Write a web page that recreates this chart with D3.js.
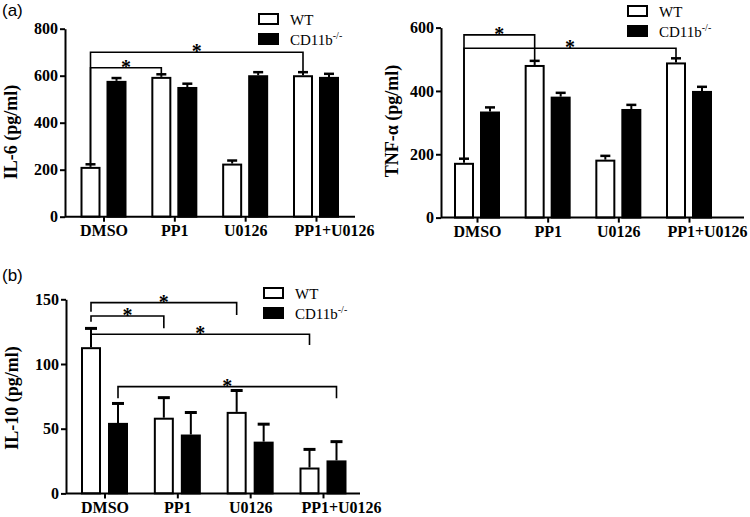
<!DOCTYPE html>
<html>
<head>
<meta charset="utf-8">
<script src="https://cdn.jsdelivr.net/npm/d3@7"></script>
<style>
  body { margin: 0; background: #fff; }
  svg text { font-family: 'Liberation Serif', 'Times New Roman', serif; fill: #000; }
</style>
</head>
<body>
<svg id="chart" width="750" height="517"></svg>
<script>
// categories and groups
const categories = ['DMSO', 'PP1', 'U0126', 'PP1+U0126'];
const groups = ['WT', 'KO'];

// IL-6 (pg/ml)
const il6WT = [212, 595, 226, 602];
const il6WTErr = [11, 11, 13, 13];
const il6KO = [578, 552, 602, 595];
const il6KOErr = [12, 14, 13, 13];
const il6Ticks = [0, 200, 400, 600, 800];

// TNF-α (pg/ml)
const tnfWT = [173, 482, 183, 490];
const tnfWTErr = [13, 13, 12, 13];
const tnfKO = [335, 382, 343, 400];
const tnfKOErr = [13, 12, 13, 13];
const tnfTicks = [0, 200, 400, 600];

// IL-10 (pg/ml)
const il10WT = [113, 58.5, 63, 20];
const il10WTErr = [14.5, 15.5, 16.5, 14];
const il10KO = [54.5, 45.5, 40, 25.5];
const il10KOErr = [15, 17, 13.5, 14.5];
const il10Ticks = [0, 50, 100, 150];

// significance brackets: [fromCategory, fromGroup, toCategory, toGroup]
const il6Sig = [[0, 'WT', 1, 'WT'], [0, 'WT', 3, 'WT']];
const tnfSig = [[0, 'WT', 1, 'WT'], [0, 'WT', 3, 'WT']];
const il10Sig = [[0, 'WT', 2, 'WT'], [0, 'WT', 1, 'WT'], [0, 'WT', 3, 'WT'], [0, 'KO', 3, 'KO']];

const svg = d3.select('#chart');

// layout of each panel (pixels) + bracket heights (data units, null = down to the error cap)
const panels = [
  {
    wt: il6WT, wtErr: il6WTErr, ko: il6KO, koErr: il6KOErr, ticks: il6Ticks, sig: il6Sig,
    title: 'IL-6 (pg/ml)', axisX: 65, axisEnd: 355, top: 28.7, bottom: 216.7,
    first: 103.5, last: 316, bar: 20, gap: 6, cap: 5, capW: 2.5,
    titleX: 17, titleY: 132, legendX: 258, legendY: 13,
    levels: [634, 700], legs: [[null, null], [null, null]]
  },
  {
    wt: tnfWT, wtErr: tnfWTErr, ko: tnfKO, koErr: tnfKOErr, ticks: tnfTicks, sig: tnfSig,
    title: 'TNF-α (pg/ml)', axisX: 441, axisEnd: 744, top: 27.6, bottom: 217.6,
    first: 477, last: 689, bar: 20, gap: 6, cap: 5, capW: 2.5,
    titleX: 398, titleY: 121, legendX: 627, legendY: 5,
    levels: [577, 535], legs: [[null, null], [null, null]]
  },
  {
    wt: il10WT, wtErr: il10WTErr, ko: il10KO, koErr: il10KOErr, ticks: il10Ticks, sig: il10Sig,
    title: 'IL-10 (pg/ml)', axisX: 66, axisEnd: 360, top: 299.3, bottom: 493.4,
    first: 104.5, last: 323, bar: 20, gap: 7, cap: 6, capW: 3,
    titleX: 18, titleY: 398, legendX: 263, legendY: 287,
    levels: [147.4, 137.1, 123, 82.5],
    legs: [[140.4, 137.9], [132.7, 127.6], [123, 114.7], [73.5, 73.5]]
  }
];

panels.forEach(p => drawPanel(p));

// panel letters
svg.append('text').attr('x', 2).attr('y', 16).text('(a)')
  .style('font-family', "'Liberation Sans', Arial, sans-serif").style('font-size', '17px');
svg.append('text').attr('x', 2).attr('y', 281).text('(b)')
  .style('font-family', "'Liberation Sans', Arial, sans-serif").style('font-size', '17px');

function drawPanel(p) {
  const yMax = p.ticks[p.ticks.length - 1];
  const y = d3.scaleLinear().domain([0, yMax]).range([p.bottom, p.top]);
  const x = d3.scalePoint().domain(categories).range([p.first, p.last]);
  const half = p.bar + p.gap / 2;
  const sub = d3.scaleBand().domain(groups).range([-half, half]).paddingInner(p.gap / (p.bar + p.gap));

  const values = { WT: p.wt, KO: p.ko };
  const errors = { WT: p.wtErr, KO: p.koErr };
  const cx = (i, g) => x(categories[i]) + sub(g) + sub.bandwidth() / 2;

  const g = svg.append('g');

  // bars
  groups.forEach(grp => {
    g.selectAll('rect.' + grp)
      .data(values[grp])
      .enter()
      .append('rect')
      .attr('x', (d, i) => x(categories[i]) + sub(grp) + 1)
      .attr('y', d => y(d) + 1)
      .attr('width', sub.bandwidth() - 2)
      .attr('height', d => y(0) - y(d) - 1)
      .attr('fill', grp === 'WT' ? '#fff' : '#000')
      .attr('stroke', '#000')
      .attr('stroke-width', 2);

    // error bars (upper only)
    const eb = g.selectAll('g.err' + grp)
      .data(values[grp])
      .enter()
      .append('g');
    eb.append('line')
      .attr('x1', (d, i) => cx(i, grp)).attr('x2', (d, i) => cx(i, grp))
      .attr('y1', d => y(d)).attr('y2', (d, i) => y(d + errors[grp][i]))
      .attr('stroke', '#000').attr('stroke-width', 2);
    eb.append('line')
      .attr('x1', (d, i) => cx(i, grp) - p.cap).attr('x2', (d, i) => cx(i, grp) + p.cap)
      .attr('y1', (d, i) => y(d + errors[grp][i])).attr('y2', (d, i) => y(d + errors[grp][i]))
      .attr('stroke', '#000').attr('stroke-width', p.capW);
  });

  // y axis
  const yAxis = g.append('g')
    .attr('transform', 'translate(' + p.axisX + ',0)')
    .call(d3.axisLeft(y).tickValues(p.ticks).tickSize(5).tickPadding(2).tickSizeOuter(0));
  yAxis.select('.domain').attr('stroke-width', 2);
  yAxis.selectAll('.tick line').attr('stroke-width', 2);
  yAxis.selectAll('text').style('font-family', "'Liberation Serif', serif")
    .style('font-size', '16px').style('font-weight', 'bold');

  // x axis
  const xAxis = g.append('g')
    .attr('transform', 'translate(0,' + p.bottom + ')')
    .call(d3.axisBottom(x).tickSize(5).tickPadding(3).tickSizeOuter(0));
  xAxis.select('.domain').remove();
  xAxis.append('line')
    .attr('x1', p.axisX).attr('x2', p.axisEnd)
    .attr('stroke', '#000').attr('stroke-width', 2);
  xAxis.selectAll('.tick line').attr('stroke-width', 2);
  xAxis.selectAll('text').style('font-family', "'Liberation Serif', serif")
    .style('font-size', '16px').style('font-weight', 'bold')
    .attr('dx', d => d === 'PP1+U0126' ? 18 : 0);

  // y title
  g.append('text')
    .attr('transform', 'translate(' + p.titleX + ',' + p.titleY + ') rotate(-90)')
    .attr('text-anchor', 'middle')
    .style('font-size', '18px').style('font-weight', 'bold')
    .text(p.title);

  // significance brackets
  p.sig.forEach((s, k) => {
    const x1 = cx(s[0], s[1]);
    const x2 = cx(s[2], s[3]);
    const lv = p.levels[k];
    const l1 = p.legs[k][0] != null ? p.legs[k][0] : values[s[1]][s[0]] + errors[s[1]][s[0]];
    const l2 = p.legs[k][1] != null ? p.legs[k][1] : values[s[3]][s[2]] + errors[s[3]][s[2]];
    const path = d3.path();
    path.moveTo(x1, y(l1));
    path.lineTo(x1, y(lv));
    path.lineTo(x2, y(lv));
    path.lineTo(x2, y(l2));
    g.append('path')
      .attr('d', path.toString())
      .attr('fill', 'none').attr('stroke', '#000').attr('stroke-width', 1.6);
    g.append('text')
      .attr('x', (x1 + x2) / 2).attr('y', y(lv) + 6)
      .attr('text-anchor', 'middle')
      .style('font-size', '20px').style('font-weight', 'bold')
      .text('*');
  });

  // legend
  const leg = g.append('g').attr('transform', 'translate(' + p.legendX + ',' + p.legendY + ')');
  groups.forEach((grp, i) => {
    leg.append('rect')
      .attr('x', 1).attr('y', i * 20 + 1)
      .attr('width', 19).attr('height', 10)
      .attr('fill', grp === 'WT' ? '#fff' : '#000')
      .attr('stroke', '#000').attr('stroke-width', 2);
    const t = leg.append('text')
      .attr('x', 32).attr('y', i * 20 + 12)
      .style('font-size', '15px');
    if (grp === 'WT') {
      t.text('WT');
    } else {
      t.append('tspan').text('CD11b');
      t.append('tspan').attr('dy', -6).style('font-size', '10px').text('-/-');
    }
  });
}
</script>
</body>
</html>
